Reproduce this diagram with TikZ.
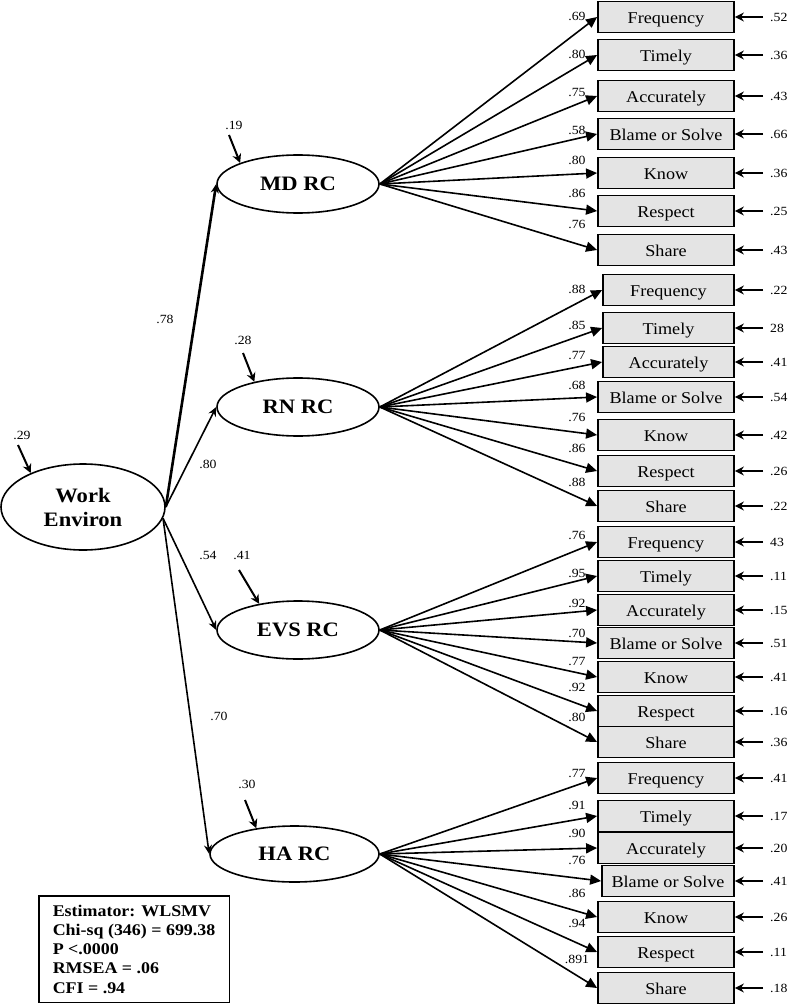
\documentclass[tikz,border=0pt]{standalone}
\usepackage{fontspec}
\setmainfont{Liberation Serif}[FakeStretch=1.1]
\usetikzlibrary{arrows.meta,shapes.geometric}
\definecolor{boxgray}{HTML}{E4E4E4}
\tikzset{
  ind/.style={draw, line width=1.8pt, fill=boxgray, rectangle, minimum height=31pt, inner sep=0pt, text height=12.5pt, text depth=0pt, font=\fontsize{16.5}{18}\selectfont},
  lat/.style={draw, ellipse, line width=1.6pt, inner sep=0pt, minimum width=162pt, minimum height=58pt, font=\bfseries\fontsize{20.5}{24}\selectfont},
  num/.style={font=\fontsize{12.5}{14}\selectfont, inner sep=0pt},
  load/.style={line width=1.6pt, -{Triangle[length=11pt,width=10pt]}},
  err/.style={line width=2pt, -{Stealth[length=9pt,width=9pt,inset=3pt]}},
  struct/.style={line width=1.6pt, -{Stealth[length=9pt,width=8pt]}},
  statbox/.style={draw, line width=1.5pt, anchor=north west, align=left, inner xsep=14pt, inner ysep=9pt, font=\bfseries\fontsize{16.3}{19.3}\selectfont}
}
\newcommand\indrow[8]{%
  \node[ind, minimum width={734-#4}] (#1#2) at ({(734+#4)/2},#3) {#5};
  \draw[load] (#1.east) -- (#1#2.west);
  \node[num] (#1#2l) at (577,#7) {#6};
  \node[num, anchor=west] (#1#2e) at (770,#3) {#8};
  \coordinate (#1#2s) at (763,#3);
  \draw[err] (#1#2s) -- (#1#2.east);
}
\begin{document}
\begin{tikzpicture}[x=1pt,y=-1pt]
\useasboundingbox (0,0) rectangle (789,1008);

% latent variables
\node[lat, minimum width=164pt, minimum height=86pt, align=center] (we) at (83,507) {Work\\Environ};
\node[lat] (md) at (298,184) {MD RC};
\node[lat] (rn) at (298,407) {RN RC};
\node[lat] (evs) at (298,630) {EVS RC};
\node[lat, minimum width=169pt, minimum height=56pt] (ha) at (294.5,854) {HA RC};

% residuals of latent variables
\node[num] (we0) at (22,435) {.29};
\coordinate (we0t) at (18,445);
\draw[err] (we0t) -- (we.147);
\node[num] (md0) at (234,125) {.19};
\coordinate (md0t) at (229,135);
\draw[err] (md0t) -- (md.160);
\node[num] (rn0) at (243,340) {.28};
\coordinate (rn0t) at (243,353);
\draw[err] (rn0t) -- (rn.150);
\node[num] (evs0) at (242,555) {.41};
\coordinate (evs0t) at (239,570);
\draw[err] (evs0t) -- (evs.146);
\node[num] (ha0) at (247,784) {.30};
\coordinate (ha0t) at (245,800);
\draw[err] (ha0t) -- (ha.146);

% structural paths
\draw[struct, line width=2.6pt] (we.east) -- (md.west);
\draw[struct] (we.east) -- (rn.west);
\draw[struct] (we.-8) -- (evs.west);
\draw[struct] (we.-8) -- (ha.west);
\node[num] (p1) at (165,319) {.78};
\node[num] (p2) at (208,464) {.80};
\node[num] (p3) at (208,555) {.54};
\node[num] (p4) at (219,716) {.70};

% MD RC indicators
\indrow{md}{1}{17}{598}{Frequency}{.69}{16}{.52}
\indrow{md}{2}{55}{598}{Timely}{.80}{54}{.36}
\indrow{md}{3}{96}{598}{Accurately}{.75}{92}{.43}
\indrow{md}{4}{134}{598}{Blame or Solve}{.58}{130}{.66}
\indrow{md}{5}{173}{598}{Know}{.80}{160}{.36}
\indrow{md}{6}{211}{598}{Respect}{.86}{193}{.25}
\indrow{md}{7}{250}{598}{Share}{.76}{224}{.43}

% RN RC indicators
\indrow{rn}{1}{290}{603}{Frequency}{.88}{289}{.22}
\indrow{rn}{2}{328}{603}{Timely}{.85}{325}{28}
\indrow{rn}{3}{362}{603}{Accurately}{.77}{355}{.41}
\indrow{rn}{4}{397}{598}{Blame or Solve}{.68}{385}{.54}
\indrow{rn}{5}{435}{598}{Know}{.76}{417}{.42}
\indrow{rn}{6}{471}{598}{Respect}{.86}{448}{.26}
\indrow{rn}{7}{506}{598}{Share}{.88}{482}{.22}

% EVS RC indicators
\indrow{evs}{1}{542}{598}{Frequency}{.76}{535}{43}
\indrow{evs}{2}{576}{598}{Timely}{.95}{573}{.11}
\indrow{evs}{3}{610}{598}{Accurately}{.92}{603}{.15}
\indrow{evs}{4}{643}{598}{Blame or Solve}{.70}{633}{.51}
\indrow{evs}{5}{677}{598}{Know}{.77}{661}{.41}
\indrow{evs}{6}{711}{598}{Respect}{.92}{687}{.16}
\indrow{evs}{7}{742}{598}{Share}{.80}{717}{.36}

% HA RC indicators
\indrow{ha}{1}{778}{598}{Frequency}{.77}{773}{.41}
\indrow{ha}{2}{816}{598}{Timely}{.91}{805}{.17}
\indrow{ha}{3}{848}{598}{Accurately}{.90}{833}{.20}
\indrow{ha}{4}{881}{602}{Blame or Solve}{.76}{860}{.41}
\indrow{ha}{5}{917}{598}{Know}{.86}{893}{.26}
\indrow{ha}{6}{952}{598}{Respect}{.94}{923}{.11}
\indrow{ha}{7}{988}{598}{Share}{.891}{959}{.18}

% fit statistics
\node[statbox] (est) at (38,895) {Estimator: WLSMV\\Chi-sq (346) = 699.38\\P <.0000\\RMSEA = .06\\CFI = .94};
\end{tikzpicture}
\end{document}
